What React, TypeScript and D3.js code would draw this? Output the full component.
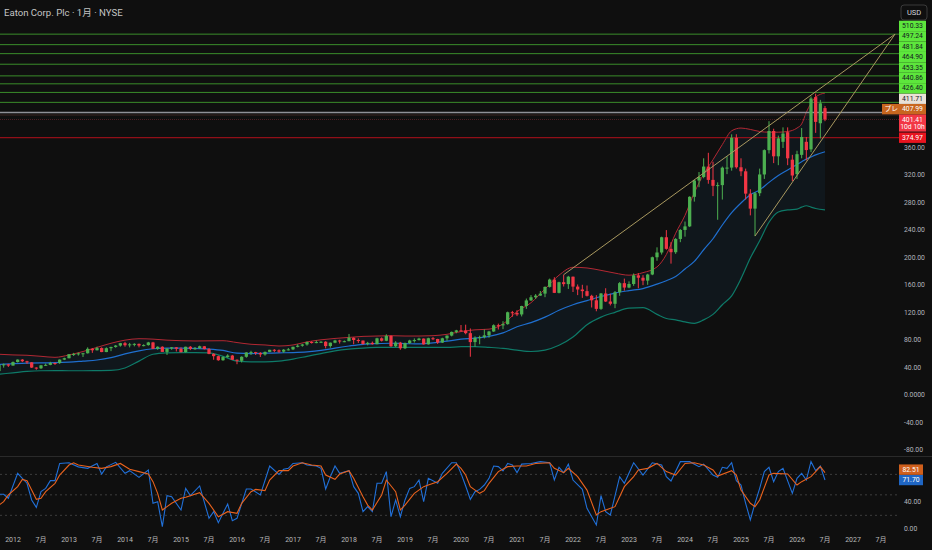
import { scaleLinear, line, area, curveMonotoneX } from 'd3'

// monthly candles, first one is Oct 2011
const FIRST_YEAR = 2011
const FIRST_MONTH = 10

const opens = [
  35.5, 44.6, 45.3,
  43.5, 48.7, 52.2, 49.8, 48.2, 40.6, 39.6, 43.9, 44.6, 47.3, 47.2, 52.2,
  54.2, 60.1, 60.4, 61.3, 61.4, 67.9, 65.8, 69, 63.2, 68.8, 70.6, 72.6,
  76.1, 73.1, 74.4, 75.1, 72.6, 73.3, 77.2, 67.9, 70.9, 63.4, 68.4, 70.1,
  68, 63.1, 70.9, 67.9, 68.7, 71.6, 67.5, 60.5, 57.2, 51.3, 55.9, 58.1,
  52, 50.5, 56.3, 62.6, 63.1, 61.9, 59.7, 63.4, 66.5, 65.7, 63.8, 66.6,
  67.1, 70.8, 72.4, 74.2, 77.8, 77.5, 77.7, 78.2, 71.9, 76.8, 80, 78.6,
  79, 84, 80.7, 79.9, 75, 76.6, 74.7, 83.2, 79.6, 86.7, 71.7, 76.8,
  68.7, 76.2, 80, 80.6, 82.8, 74.4, 83.3, 82.2, 77, 83.2, 87.1, 92.5,
  94.7, 94.5, 90.7, 77.7, 83.9, 85, 87.5, 93.1, 102.2, 102, 103.8, 121.1,
  120.1, 117.9, 130.2, 138.3, 142.9, 145.3, 148.2, 158, 168.6, 149.3, 164.8, 162,
  172.8, 158.4, 154.2, 151.8, 145, 138.5, 126, 148.4, 136.7, 133.4, 150.1, 163.4,
  157, 162.2, 174.8, 171.3, 167.1, 176, 201.1, 208, 230.2, 213.3, 208.4, 227.7,
  240.8, 246, 289, 312.7, 317.8, 333, 313.6, 305, 306, 331.4, 331.5, 374.9,
  332, 326.1, 293.6, 271.8, 294.2, 321.5, 356.9, 384.7, 347.9, 369, 383, 343,
  322, 350, 369, 358, 434, 396, 418,
]

const highs = [
  46, 46.5, 46,
  49.5, 52.5, 53, 50.5, 48.5, 41, 44.5, 46.5, 49, 48, 52.5, 55,
  60, 62, 62.5, 62, 70, 69, 71, 70, 70, 71, 73.5, 76.5,
  78, 76.5, 76, 75.5, 74.5, 78, 78, 71.5, 71.5, 68.5, 70.5, 70.5,
  70, 71, 72, 70.5, 72.5, 72, 69, 61.5, 58, 57, 60, 59,
  52.5, 57, 63, 65, 63.5, 63, 64, 66.5, 67.5, 67, 67.5, 69,
  71, 74.5, 75, 78.5, 79, 80, 79, 79, 77, 81, 81, 80,
  89.5, 84.5, 83, 80, 78, 78.5, 84, 84.5, 89, 87.5, 79, 78,
  77, 81, 83, 84, 83, 84, 85, 82.5, 84, 87.5, 93, 95.5,
  102.5, 103, 97.5, 86, 87, 96, 94, 103.5, 104.5, 108, 122, 123,
  124, 130.5, 141, 146, 147.5, 152, 158.5, 170, 172, 165.5, 175.7, 174,
  173, 161.5, 161, 160, 146.5, 146, 149, 156, 148, 152, 165, 170,
  166, 177.5, 178, 175, 177, 202, 215.5, 231, 240.6, 223, 229, 242,
  253, 289.8, 314, 325, 345, 353, 340, 310, 333, 348, 379.9, 380,
  345, 330, 300, 296, 330, 358, 399, 388, 378, 390, 390, 350,
  356, 389, 376, 435, 439, 430, 421,
]

const lows = [
  34, 40.5, 41.5,
  43.5, 48, 48.5, 46, 40, 37.5, 38.5, 43, 44, 44.5, 46, 51.5,
  54, 57.5, 58, 56, 61, 62, 65.5, 63, 63, 64.5, 69.5, 71,
  71, 70, 71.5, 70, 71.5, 72.5, 67.5, 66.5, 63.5, 59, 66.5, 64,
  62.5, 62.5, 66, 66.5, 68, 67, 60, 52, 50.5, 50.5, 55, 51.5,
  45.5, 48, 55, 59, 59, 56, 58, 63, 63, 62, 62, 65.5,
  66, 70, 71, 72.5, 75.5, 76, 76.5, 68.5, 69.5, 76, 75.5, 77.5,
  79, 74.5, 76.5, 74, 73, 74, 74.5, 78.5, 79, 70.5, 70.5, 66.5,
  67.5, 75, 77, 80, 74, 74, 80.5, 75, 76.5, 79.5, 86, 90.5,
  93.5, 89, 56.4, 71, 74.5, 83, 84, 92.5, 96, 96.5, 103, 114.5,
  115.5, 115, 126, 137.5, 140.5, 145, 143, 157, 149, 148.5, 158.5, 155,
  150.5, 146, 142, 144, 128, 122.5, 124.5, 136, 131, 127, 145, 152.5,
  156, 159.5, 156, 160.5, 161, 175, 196, 205, 212, 191.8, 206, 223,
  231, 245, 282, 303, 316, 308, 290, 255.6, 285, 322, 327, 330,
  319, 285, 262, 231.9, 290, 315, 352, 338, 335, 360, 335, 312,
  315, 345, 342, 354, 382, 374, 399,
]

const closes = [
  44.6, 45.3, 43.5,
  48.7, 52.2, 49.8, 48.2, 40.6, 39.6, 43.9, 44.6, 47.3, 47.2, 52.2, 54.2,
  60.1, 60.4, 61.3, 61.4, 67.9, 65.8, 69, 63.2, 68.8, 70.6, 72.6, 76.1,
  73.1, 74.4, 75.1, 72.6, 73.3, 77.2, 67.9, 70.9, 63.4, 68.4, 70.1, 68,
  63.1, 70.9, 67.9, 68.7, 71.6, 67.5, 60.5, 57.2, 51.3, 55.9, 58.1, 52,
  50.5, 56.3, 62.6, 63.1, 61.9, 59.7, 63.4, 66.5, 65.7, 63.8, 66.6, 67.1,
  70.8, 72.4, 74.2, 77.8, 77.5, 77.7, 78.2, 71.9, 76.8, 80, 78.6, 79,
  84, 80.7, 79.9, 75, 76.6, 74.7, 83.2, 79.6, 86.7, 71.7, 76.8, 68.7,
  76.2, 80, 80.6, 82.8, 74.4, 83.3, 82.2, 77, 83.2, 87.1, 92.5, 94.7,
  94.5, 90.7, 77.7, 83.9, 85, 87.5, 93.1, 102.2, 102, 103.8, 121.1, 120.1,
  117.9, 130.2, 138.3, 142.9, 145.3, 148.2, 158, 168.6, 149.3, 164.8, 162, 172.8,
  158.4, 154.2, 151.8, 145, 138.5, 126, 148.4, 136.7, 133.4, 150.1, 163.4, 157,
  162.2, 174.8, 171.3, 167.1, 176, 201.1, 208, 230.2, 213.3, 208.4, 227.7, 240.8,
  246, 289, 312.7, 317.8, 333, 313.6, 305, 306, 331.4, 331.5, 374.9, 332,
  326.1, 293.6, 271.8, 294.2, 321.5, 356.9, 384.7, 347.9, 374, 381, 345, 320,
  351, 376, 357, 432, 398, 425, 401.41,
]

// Bollinger bands (months since Jan 2012)
const bandMonths = [
  -3, 0, 3, 6, 9, 12, 15, 18, 21, 24, 27, 30, 33, 36, 39, 42, 45, 48, 51, 54, 57, 60,
  63, 66, 69, 72, 75, 78, 81, 84, 87, 90, 93, 96, 99, 102, 105, 108, 111, 114, 117,
  120, 123, 126, 129, 132, 135, 138, 140, 142, 144, 146, 148, 150, 152, 154, 156,
  158, 160, 162, 164, 166, 168, 169, 170, 171, 172, 174,
]
const bandUpper = [
  60, 59, 58.5, 57, 55.5, 59, 64, 70, 76, 80.5, 82.6, 82, 80.5, 79.7, 79.3, 79.5, 79.7, 77, 74.5, 73.5, 72, 73.5,
  78, 81, 83, 84.5, 86, 86.5, 87, 86.5, 86.5, 87, 89, 93, 95.5, 96.5, 104, 122, 135, 155, 175,
  186.5, 185.5, 182, 178, 175, 178.7, 187, 205, 236, 262, 295, 322, 343, 365, 385, 389,
  387, 384, 383, 383, 384, 389, 395, 412, 425, 434, 440,
]
const bandMiddle = [
  45, 46.5, 47, 47.5, 47.7, 48.5, 50, 51.6, 55, 60.5, 65, 68, 69, 69, 68.5, 67.5, 65.5, 61.5, 61, 61.5, 62, 62.5,
  63.5, 65.5, 69, 72, 74.5, 75.5, 76, 75.5, 75, 76.5, 79, 82, 83.5, 86, 91, 100, 106, 114, 124,
  132, 138, 144, 149, 152.5, 155.5, 162, 167, 173, 184, 195, 212, 228, 248, 266, 280,
  292, 299, 310, 320, 328, 336, 340, 344, 347, 350, 354.6,
]
const bandLower = [
  31, 33, 35, 36, 36.2, 36, 36, 36.2, 36.5, 40, 50, 60, 62, 62.5, 62.5, 62, 57, 50, 49, 49, 50, 53,
  57, 61, 65, 67.5, 69, 70, 70, 70, 70, 70, 70, 71, 71, 70, 68.6, 66, 64, 66, 73,
  85, 103, 114, 121, 127, 127.7, 118, 112, 110, 107, 105, 110, 118, 132, 145, 170,
  200, 225, 252, 267, 270, 271, 274, 276, 274, 272, 270,
]

// Stoch RSI %K and %D
const stochKMonths = [
  -3, -2, -1, 1, 2, 3, 4, 5, 6, 7, 8, 9, 10, 12, 14, 16, 18, 19, 20, 22, 24, 25, 27, 29,
  30, 31, 32, 33, 34, 36, 37, 38, 40, 42, 43, 44, 45, 46, 47, 48, 50, 51, 53, 55, 57,
  58, 59, 60, 62, 63, 65, 66, 67, 68, 69, 70, 72, 73, 74, 75, 76, 77, 78, 79, 80, 81,
  82, 83, 84, 85, 86, 87, 88, 89, 91, 92, 94, 95, 96, 97, 98, 99, 100, 101, 102, 103,
  104, 105, 106, 107, 108, 109, 111, 113, 115, 116, 117, 118, 119, 120, 122, 123, 125,
  126, 127, 128, 130, 131, 133, 135, 137, 139, 140, 141, 143, 145, 147, 148, 150, 151,
  152, 153, 154, 155, 156, 157, 158, 159, 160, 161, 162, 163, 164, 165, 167, 168, 169,
  170, 171, 172, 173, 174,
]
const stochK = [
  50.8, 50.8, 45, 81.5, 74, 67, 42.5, 31.7, 54.7, 59.5, 70.8, 70.8, 96, 97, 91, 88.8, 96, 80.5, 91, 97.6, 81.5, 85.4, 75.6, 86.4,
  37.6, 40, 3.4, 48.8, 47.3, 27.8, 59.5, 48.8, 63, 15.6, 25.4, 9.3, 23, 36.6, 12.2, 15.6, 58.6, 58.6, 49.8, 92.2, 80,
  87.4, 88.8, 96, 97, 93.7, 92.2, 88.8, 58.6, 76.6, 92.2, 81.5, 85.4, 62, 52.2, 25.4, 32.7, 25.4, 66.9, 66.9, 84, 18,
  42.5, 18, 42.5, 59.5, 62, 71.7, 40, 74.2, 66.9, 81.5, 97, 97, 81.5, 63, 43.4, 54.7, 58, 64.4, 74.2, 92.2,
  91.3, 85, 96, 93.7, 82.5, 95, 96, 98.6, 97, 71.7, 90.3, 82.5, 95, 71.7, 58, 30.3, 5.9,
  48.8, 25.4, 20.5, 76.6, 66.9, 97, 79, 97, 93.7, 76.6, 70.3, 98.6, 98.6, 91.3, 95, 79, 75.6,
  90.3, 88.8, 97, 70.8, 64.4, 37.6, 13.2, 37.6, 59.5, 84, 90.3, 69.3, 84, 88.8, 52.2, 74.2, 81.5,
  71.7, 98.6, 85.4, 92.2, 71.7,
]
const stochDMonths = [
  -3, -2, -1, 1, 2, 3, 4, 5, 6, 7, 9, 10, 12, 13, 14, 17, 19, 21, 23, 25, 27, 29, 30, 31,
  32, 33, 34, 36, 37, 40, 42, 44, 46, 48, 49, 51, 52, 54, 55, 57, 59, 60, 62, 64, 66,
  67, 69, 70, 72, 73, 75, 76, 77, 79, 80, 82, 83, 84, 86, 88, 89, 91, 93, 95, 96, 97,
  98, 100, 101, 102, 104, 106, 108, 110, 112, 115, 116, 118, 119, 121, 123, 125, 126,
  129, 131, 133, 134, 136, 138, 140, 142, 144, 146, 148, 150, 151, 154, 155, 156, 158,
  159, 160, 162, 163, 166, 168, 169, 171, 172, 173, 174,
]
const stochD = [
  35, 40, 49.8, 62, 72.7, 70.8, 57, 43.4, 45, 54.7, 66.9, 79, 93.7, 97, 93.7, 90.3, 88.8, 91.3, 96, 87.4, 84, 80.5, 69.3, 52.2,
  27.8, 32.7, 37.6, 45, 46.4, 53.2, 37.6, 18, 25.4, 23, 37.6, 54.7, 58, 56.2, 71.7, 85.4, 85.4, 92.2, 97, 93.7, 92.2,
  79, 72.7, 80.5, 85.4, 74.2, 47.3, 35, 27.8, 49.8, 71.7, 54.7, 27.8, 35, 52.2, 62, 64.4, 69.3, 81.5, 95, 88.8, 79,
  62, 52.2, 56.2, 66.9, 84, 91.3, 92.2, 92.2, 96, 97, 88.8, 82.5, 88.8, 76.6, 57, 20.5, 25.4,
  32.7, 62, 76.6, 86.4, 88.8, 96, 84, 79, 96, 97, 93.7, 86.4, 77.6, 85.4, 79, 57, 37.6,
  32.7, 42.5, 79, 81.5, 80.5, 64.4, 69.3, 76.6, 84, 91.3, 82.51,
]

// horizontal levels and drawn wedge
const apexLevel = 525.6
const greenLevels = [510.33, 497.24, 481.84, 464.9, 453.35, 440.86, 426.4]
const whiteLevel = 411.71
const preMarket = 407.99
const lastPrice = 401.41
const redLevel = 374.97
const countdown = '10d 10h'
// [months since Jan 2012, price]
const wedgeUpperStart: [number, number] = [118, 175.7]
const wedgeLowerStart: [number, number] = [159, 231.9]
const wedgeApex: [number, number] = [189, apexLevel]

const priceTicks = [360, 320, 280, 240, 200, 160, 120, 80, 40, 0, -40, -80]
const stochTicks = [40, 0]
const stochGuides = [80, 50, 20]
const years = [2012, 2013, 2014, 2015, 2016, 2017, 2018, 2019, 2020, 2021, 2022, 2023, 2024, 2025, 2026, 2027]

const BG = '#0f0f0f'
const UP = '#4caf50'
const DOWN = '#f23645'
const FONT = "Roboto, 'Noto Sans CJK JP', sans-serif"

const monthOf = (i: number) => (FIRST_YEAR - 2012) * 12 + (FIRST_MONTH - 1) + i

type AxisLabel = { price: number; bg: string; fg: string; text: string; sub?: string; prefix?: string }

// stack labels upward so they don't overlap (like the price scale does)
function stack(labels: AxisLabel[], y: (v: number) => number, h: number) {
  const sorted = [...labels].sort((a, b) => a.price - b.price)
  let limit = Infinity
  return sorted.map((l) => {
    const height = l.sub ? h * 1.66 : h
    let top = y(l.price) - h / 2
    if (top + height > limit) top = limit - height
    limit = top
    return { ...l, top, height }
  })
}

export default function App() {
  const width = 932
  const height = 550
  const plotRight = 899
  const paneBottom = 456

  const x = scaleLinear().domain([0, 12]).range([13, 69])
  const y = scaleLinear().domain([-88, 575.27]).range([paneBottom, 0])
  const ys = scaleLinear().domain([0, 100]).range([529, 460.7])

  const step = x(1) - x(0)
  const bodyW = step * 0.7

  const bandPts = bandMonths.map((m, i) => ({ m, u: bandUpper[i], c: bandMiddle[i], l: bandLower[i] }))
  const bandArea = area<any>().x((d) => x(d.m)).y0((d) => y(d.l)).y1((d) => y(d.u)).curve(curveMonotoneX)
  const bandLine = (key: 'u' | 'c' | 'l') =>
    line<any>().x((d) => x(d.m)).y((d) => y(d[key])).curve(curveMonotoneX)(bandPts) || ''

  const kLine = line<number>().x((_, i) => x(stochKMonths[i])).y((d) => ys(d))(stochK) || ''
  const dLine = line<number>().x((_, i) => x(stochDMonths[i])).y((d) => ys(d))(stochD) || ''

  const lastK = stochK[stochK.length - 1]
  const lastD = stochD[stochD.length - 1]

  const priceLabels = stack(
    [
      ...greenLevels.map((p) => ({ price: p, bg: '#5de63c', fg: '#131722', text: p.toFixed(2) })),
      { price: whiteLevel, bg: '#e9e0d6', fg: '#131722', text: whiteLevel.toFixed(2) },
      { price: preMarket, bg: '#c8661f', fg: '#ffffff', text: preMarket.toFixed(2), prefix: 'プレ' },
      { price: lastPrice, bg: '#f23645', fg: '#ffffff', text: lastPrice.toFixed(2), sub: countdown },
      { price: redLevel, bg: '#e8141f', fg: '#ffffff', text: redLevel.toFixed(2) },
    ],
    y,
    10.4
  )
  const stochLabels = stack(
    [
      { price: lastD, bg: '#cf5f1c', fg: '#ffffff', text: lastD.toFixed(2) },
      { price: lastK, bg: '#1f66c4', fg: '#ffffff', text: lastK.toFixed(2) },
    ],
    ys,
    10.4
  )

  const wedge = (a: [number, number]) => (
    <line x1={x(a[0])} y1={y(a[1])} x2={x(wedgeApex[0])} y2={y(wedgeApex[1])} stroke='#a8985f' strokeWidth={1} />
  )

  return (
    <svg width={width} height={height} style={{ position: 'absolute', left: 0, top: 0, fontFamily: FONT }}>
      <rect width={width} height={height} fill={BG} />
      <defs>
        <clipPath id='pane'>
          <rect x={0} y={0} width={plotRight} height={paneBottom} />
        </clipPath>
        <clipPath id='spane'>
          <rect x={0} y={paneBottom + 1} width={plotRight} height={80} />
        </clipPath>
      </defs>

      {/* main pane */}
      <g clipPath='url(#pane)'>
        <path d={bandArea(bandPts) || ''} fill='rgba(33,150,243,0.06)' />
        <path d={bandLine('u')} fill='none' stroke='#b22833' strokeWidth={1} />
        <path d={bandLine('c')} fill='none' stroke='#1f6fcf' strokeWidth={1.2} />
        <path d={bandLine('l')} fill='none' stroke='#0e7a68' strokeWidth={1.2} />

        {[apexLevel, ...greenLevels].map((p) => (
          <line key={p} x1={0} x2={plotRight} y1={y(p)} y2={y(p)} stroke='#3a8c2a' strokeWidth={1} />
        ))}
        <line x1={0} x2={plotRight} y1={y(whiteLevel)} y2={y(whiteLevel)} stroke='#8f9197' strokeWidth={1.5} />
        <line x1={0} x2={plotRight} y1={y(preMarket)} y2={y(preMarket)} stroke='#3a2622' strokeWidth={1} />
        <line x1={0} x2={plotRight} y1={y(lastPrice)} y2={y(lastPrice)} stroke='#4d1f24' strokeWidth={1} strokeDasharray='1 1' />
        <line x1={0} x2={plotRight} y1={y(redLevel)} y2={y(redLevel)} stroke='#b3101b' strokeWidth={1} />

        {closes.map((c, i) => {
          const o = opens[i]
          const color = c >= o ? UP : DOWN
          const cx = x(monthOf(i))
          const top = y(Math.max(o, c))
          const bot = y(Math.min(o, c))
          return (
            <g key={i}>
              <line x1={cx} x2={cx} y1={y(highs[i])} y2={y(lows[i])} stroke={color} strokeWidth={1} />
              <rect x={cx - bodyW / 2} y={top} width={bodyW} height={Math.max(1, bot - top)} fill={color} />
            </g>
          )
        })}

        {wedge(wedgeUpperStart)}
        {wedge(wedgeLowerStart)}
      </g>

      {/* title */}
      <text x={4} y={16} fontSize={9.6} fill='#c4c4c4'>
        Eaton Corp. Plc · 1月 · NYSE
      </text>

      {/* price scale */}
      <rect x={901} y={5} width={26} height={15} rx={3} fill={BG} stroke='#3a3a3a' />
      <text x={914} y={12.8} fontSize={7.5} fill='#d1d4dc' textAnchor='middle' dominantBaseline='central'>
        USD
      </text>
      {priceTicks.map((t) => (
        <text key={t} x={904} y={y(t)} fontSize={6.8} fill='#b2b5be' dominantBaseline='central'>
          {t === 0 ? '0.0000' : t.toFixed(2)}
        </text>
      ))}
      {priceLabels.map((l) => (
        <g key={l.text}>
          <rect
            x={l.prefix ? 882 : plotRight}
            y={l.top}
            width={l.prefix ? 926 - 882 : 27}
            height={l.height}
            fill={l.bg}
          />
          {l.prefix && (
            <text x={884.5} y={l.top + 5.2} fontSize={6.8} fill={l.fg} dominantBaseline='central'>
              {l.prefix}
            </text>
          )}
          <text x={912.5} y={l.top + 5.2} fontSize={6.8} fill={l.fg} textAnchor='middle' dominantBaseline='central'>
            {l.text}
          </text>
          {l.sub && (
            <text x={912.5} y={l.top + 12.6} fontSize={6.8} fill={l.fg} textAnchor='middle' dominantBaseline='central'>
              {l.sub}
            </text>
          )}
        </g>
      ))}

      {/* stoch RSI pane */}
      <line x1={0} x2={width} y1={paneBottom + 0.5} y2={paneBottom + 0.5} stroke='#2a2a2a' />
      <g clipPath='url(#spane)'>
        {stochGuides.map((g) => (
          <line key={g} x1={0} x2={plotRight} y1={ys(g)} y2={ys(g)} stroke='#3d3d3d' strokeDasharray='2 3' />
        ))}
        <path d={kLine} fill='none' stroke='#2170d8' strokeWidth={1.1} />
        <path d={dLine} fill='none' stroke='#e8621e' strokeWidth={1.1} />
      </g>
      {stochTicks.map((t) => (
        <text key={t} x={904} y={ys(t)} fontSize={6.8} fill='#b2b5be' dominantBaseline='central'>
          {t.toFixed(2)}
        </text>
      ))}
      {stochLabels.map((l) => (
        <g key={l.text}>
          <rect x={plotRight} y={l.top} width={24} height={l.height} fill={l.bg} />
          <text x={911} y={l.top + 5.2} fontSize={6.8} fill={l.fg} textAnchor='middle' dominantBaseline='central'>
            {l.text}
          </text>
        </g>
      ))}

      {/* time axis */}
      {years.map((yr) => {
        const m = (yr - 2012) * 12
        return (
          <g key={yr}>
            <text x={x(m)} y={540} fontSize={7} fill='#b8b8b8' textAnchor='middle' dominantBaseline='central'>
              {yr}
            </text>
            <text x={x(m + 6)} y={540} fontSize={7} fill='#b8b8b8' textAnchor='middle' dominantBaseline='central'>
              7月
            </text>
          </g>
        )
      })}
    </svg>
  )
}
